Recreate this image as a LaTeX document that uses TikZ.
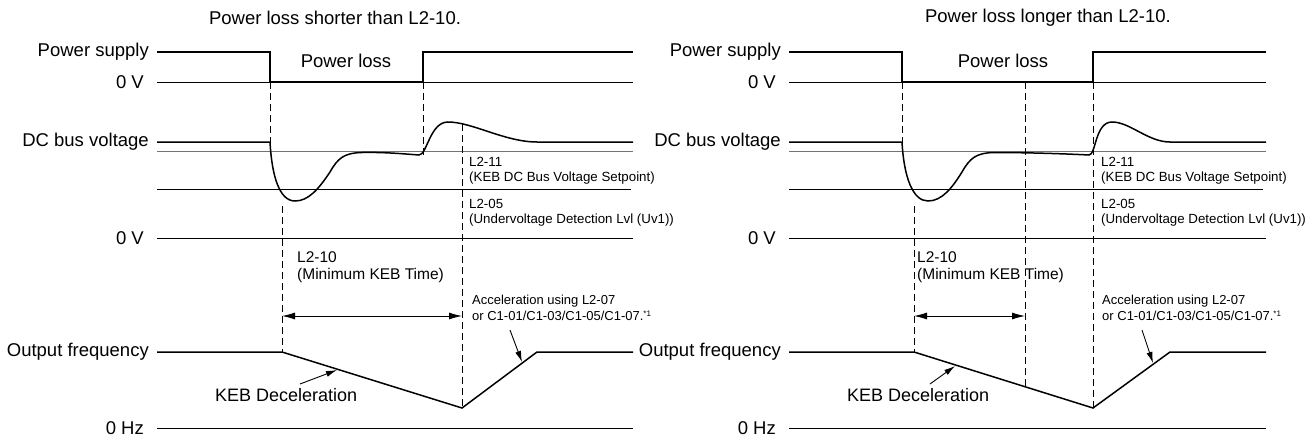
\documentclass[tikz,border=0pt]{standalone}
\usepackage{fontspec}
\setmainfont{Liberation Sans}
\usetikzlibrary{arrows.meta}
\begin{document}
\begin{tikzpicture}[x=1pt,y=-1pt,
  sig/.style={line width=1.5pt,black},
  refl/.style={line width=0.9pt,black},
  grayl/.style={line width=1pt,black!55},
  dsh/.style={line width=0.8pt,dash pattern=on 7pt off 4pt},
  ptr/.style={line width=0.9pt,-{Latex[length=11pt,width=6pt]}},
  dim/.style={line width=0.9pt,{Latex[length=13pt,width=7pt]}-{Latex[length=13pt,width=7pt]}},
  lbl/.style={anchor=east,inner sep=0pt,font=\fontsize{18.5}{20}\selectfont},
  ttl/.style={inner sep=0pt,font=\fontsize{18.5}{20}\selectfont},
  big/.style={anchor=west,inner sep=0pt,font=\fontsize{18}{20}\selectfont},
  mid/.style={anchor=west,inner sep=0pt,font=\fontsize{15.5}{18}\selectfont},
  sml/.style={anchor=west,inner sep=0pt,font=\fontsize{13.3}{15}\selectfont},
  acc/.style={anchor=west,inner sep=0pt,font=\fontsize{13}{15}\selectfont}]
\useasboundingbox (0,0) rectangle (1312,439);

% ===================== LEFT PANEL =====================
\node[ttl] (tL) at (335,18) {Power loss shorter than L2-10.};
\node[lbl] (psL) at (149,52) {Power supply};
\node[lbl] (z1L) at (144,82) {0 V};
\node[lbl] (dcL) at (149,142) {DC bus voltage};
\node[lbl] (z2L) at (144,238) {0 V};
\node[lbl] (ofL) at (149,352) {Output frequency};
\node[lbl] (zhL) at (144,428) {0 Hz};
\node[ttl] (plL) at (346,61) {Power loss};

% reference lines
\draw[refl] (157,82) -- (633,82);
\draw[grayl] (157,151) -- (633,151);
\draw[refl] (157,189) -- (631,189);
\draw[refl] (157,238) -- (633,238);
\draw[refl] (157,428) -- (633,428);

% power supply
\draw[sig] (157,52) -- (270,52) -- (270,82) -- (423,82) -- (423,52) -- (633,52);
% DC bus
\draw[sig] (157,142) -- (270,142) .. controls (272,178) and (280,201) .. (295,201)
  .. controls (308,201) and (318,190) .. (330,172)
  .. controls (338,158) and (344,153) .. (362,152.5)
  .. controls (385,152) and (405,154) .. (419,155)
  .. controls (427,155) and (430,122) .. (448,122)
  .. controls (472,122) and (505,142) .. (537,142) -- (633,142);
% output frequency
\coordinate (a1L) at (282,352);
\coordinate (a2L) at (462,408);
\coordinate (a3L) at (537,352);
\draw[sig] (157,352) -- (a1L) -- (a2L) -- (a3L) -- (633,352);

% dashed lines
\draw[dsh] (270,82) -- (270,142);
\draw[dsh] (282,206) -- (a1L);
\draw[dsh] (423,82) -- (423,155);
\draw[dsh] (462,124) -- (a2L);

% dimension arrow
\coordinate (d1L) at (282,316);
\coordinate (d2L) at (462,316);
\draw[dim] (d1L) -- (d2L);

% texts
\node[sml] (l211L) at (469,162) {L2-11};
\node[sml] (k211L) at (469,178) {(KEB DC Bus Voltage Setpoint)};
\node[sml] (l205L) at (469,204) {L2-05};
\node[sml] (u205L) at (469,220) {(Undervoltage Detection Lvl (Uv1))};
\node[mid] (l210L) at (297,257) {L2-10};
\node[mid] (m210L) at (297,275) {(Minimum KEB Time)};
\node[acc] (acL) at (472,301) {Acceleration using L2-07};
\node[acc] (orL) at (472,316) {or C1-01/C1-03/C1-05/C1-07.\textsuperscript{\fontsize{8}{9}\selectfont *1}};
\node[big] (kebL) at (215,395) {KEB Deceleration};

\coordinate (kt0L) at (300,384);
\coordinate (kt1L) at (337,370);
\draw[ptr] (kt0L) -- (kt1L);
\coordinate (at0L) at (510,330);
\coordinate (at1L) at (522,362);
\draw[ptr] (at0L) -- (at1L);

% ===================== RIGHT PANEL =====================
\node[ttl] (tR) at (1048,18) {Power loss longer than L2-10.};
\node[lbl] (psR) at (781,52) {Power supply};
\node[lbl] (z1R) at (776,82) {0 V};
\node[lbl] (dcR) at (781,142) {DC bus voltage};
\node[lbl] (z2R) at (776,238) {0 V};
\node[lbl] (ofR) at (781,352) {Output frequency};
\node[lbl] (zhR) at (776,428) {0 Hz};
\node[ttl] (plR) at (1003,61) {Power loss};

\draw[refl] (789,82) -- (1266,82);
\draw[grayl] (789,151) -- (1266,151);
\draw[refl] (789,189) -- (1263,189);
\draw[refl] (789,238) -- (1266,238);
\draw[refl] (789,428) -- (1266,428);

\draw[sig] (789,52) -- (902,52) -- (902,82) -- (1093,82) -- (1093,52) -- (1266,52);
\draw[sig] (789,142) -- (902,142) .. controls (904,178) and (913,201) .. (928,201)
  .. controls (942,201) and (952,188) .. (962,172)
  .. controls (970,158) and (976,153) .. (994,152.5)
  .. controls (1030,152.5) and (1070,154) .. (1089,155)
  .. controls (1096,155) and (1095,122) .. (1112,122)
  .. controls (1130,122) and (1148,142) .. (1170,142) -- (1266,142);
\coordinate (a1R) at (914,352);
\coordinate (a2R) at (1093,408);
\coordinate (a3R) at (1170,352);
\coordinate (amR) at (1025,386.7);
\draw[sig] (789,352) -- (a1R) -- (a2R) -- (a3R) -- (1266,352);

\draw[dsh] (902,82) -- (902,142);
\draw[dsh] (914,206) -- (a1R);
\draw[dsh] (1025,82) -- (amR);
\draw[dsh] (1093,82) -- (a2R);

\coordinate (d1R) at (914,316);
\coordinate (d2R) at (1025,316);
\draw[dim] (d1R) -- (d2R);

\node[sml] (l211R) at (1101,162) {L2-11};
\node[sml] (k211R) at (1101,178) {(KEB DC Bus Voltage Setpoint)};
\node[sml] (l205R) at (1101,204) {L2-05};
\node[sml] (u205R) at (1101,220) {(Undervoltage Detection Lvl (Uv1))};
\node[mid] (l210R) at (917,257) {L2-10};
\node[mid] (m210R) at (917,275) {(Minimum KEB Time)};
\node[acc] (acR) at (1102,301) {Acceleration using L2-07};
\node[acc] (orR) at (1102,316) {or C1-01/C1-03/C1-05/C1-07.\textsuperscript{\fontsize{8}{9}\selectfont *1}};
\node[big] (kebR) at (847,395) {KEB Deceleration};

\coordinate (kt0R) at (930,384);
\coordinate (kt1R) at (955,366);
\draw[ptr] (kt0R) -- (kt1R);
\coordinate (at0R) at (1142,330);
\coordinate (at1R) at (1153,363);
\draw[ptr] (at0R) -- (at1R);
\end{tikzpicture}
\end{document}
